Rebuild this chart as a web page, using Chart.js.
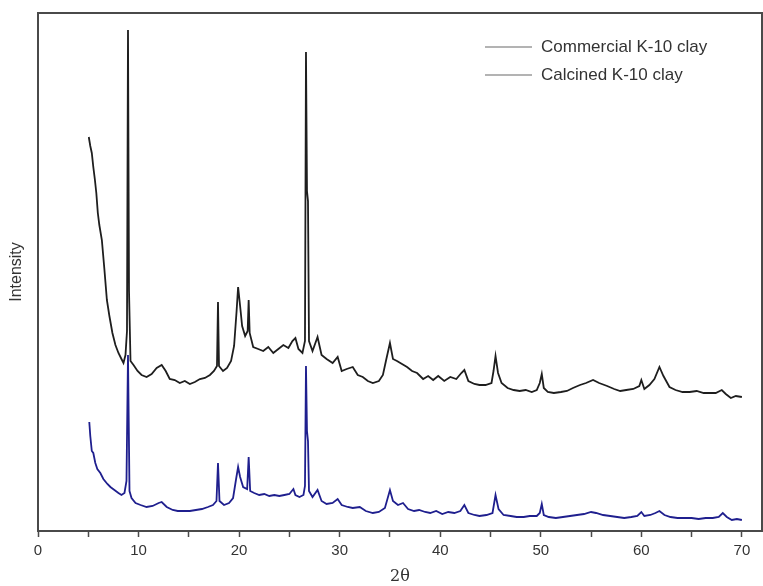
<!DOCTYPE html>
<html>
<head>
<meta charset="utf-8">
<script src="https://cdn.jsdelivr.net/npm/chart.js@4"></script>
<style>
  html, body { margin: 0; padding: 0; background: #fff; }
  #wrap { width: 763px; height: 586px; }
</style>
</head>
<body>
<div id="wrap"><canvas id="xrd"></canvas></div>
<script>
// series (2θ in degrees, intensity in arbitrary units)
const seriesNames = ["Commercial K-10 clay", "Calcined K-10 clay"];
const xTicks = [0, 10, 20, 30, 40, 50, 60, 70];
const xMinorTicks = [5, 15, 25, 35, 45, 55, 65];

const commercialX = [5.05, 5.2, 5.35, 5.5, 5.65, 5.8, 5.95, 6.1, 6.35, 6.6, 6.85, 7.1, 7.4, 7.7, 8.0, 8.3, 8.5, 8.7, 8.85, 8.95, 9.05, 9.2, 9.5, 9.9, 10.3, 10.8, 11.3, 11.8, 12.3, 12.7, 13.1, 13.6, 14.1, 14.6, 15.1, 15.6, 16.1, 16.6, 17.1, 17.5, 17.8, 17.9, 18.0, 18.4, 18.8, 19.2, 19.5, 19.75, 19.9, 20.1, 20.3, 20.6, 20.85, 20.95, 21.05, 21.4, 21.9, 22.4, 22.9, 23.4, 23.9, 24.4, 24.9, 25.3, 25.6, 25.9, 26.3, 26.55, 26.65, 26.75, 26.85, 26.95, 27.3, 27.8, 28.2, 28.7, 29.3, 29.8, 30.2, 30.7, 31.3, 31.8, 32.3, 32.8, 33.3, 33.9, 34.3, 34.6, 35.0, 35.3, 35.7, 36.2, 36.7, 37.2, 37.7, 38.3, 38.8, 39.3, 39.8, 40.4, 41.0, 41.6, 42.1, 42.4, 42.8, 43.4, 43.9, 44.5, 45.1, 45.3, 45.5, 45.75, 46.1, 46.7, 47.3, 47.9, 48.5, 49.1, 49.6, 49.9, 50.1, 50.3, 50.7, 51.3, 52.0, 52.6, 53.2, 53.9, 54.5, 55.2, 55.8, 56.6, 57.3, 57.9, 58.5, 59.2, 59.8, 60.0, 60.3, 60.8, 61.3, 61.8, 62.2, 62.8, 63.4, 64.1, 64.8, 65.5, 66.2, 66.8, 67.4, 68.0, 68.4, 68.9, 69.4, 70.0];
const commercialY = [394, 385, 378, 364, 352, 338, 318, 306, 291, 262, 231, 215, 198, 186, 178, 172, 168, 176, 200, 501, 240, 170, 166, 160, 156, 154, 157, 163, 166, 160, 152, 151, 148, 150, 147, 149, 152, 153, 156, 160, 165, 229, 165, 160, 163, 170, 185, 220, 244, 225, 205, 195, 200, 231, 198, 184, 182, 180, 184, 178, 182, 186, 183, 190, 193, 182, 178, 190, 479, 340, 330, 190, 180, 194, 176, 172, 168, 174, 160, 162, 164, 156, 154, 150, 148, 150, 156, 170, 188, 172, 170, 167, 164, 160, 158, 152, 155, 151, 155, 150, 154, 152, 158, 161, 150, 147, 146, 146, 148, 160, 175, 158, 148, 143, 141, 140, 141, 139, 141, 148, 157, 143, 139, 138, 139, 140, 143, 146, 148, 151, 148, 145, 142, 140, 141, 142, 145, 151, 142, 146, 152, 164, 155, 144, 141, 139, 139, 140, 138, 138, 138, 141, 137, 133, 135, 134];

const calcinedX = [5.1, 5.2, 5.35, 5.5, 5.7, 5.9, 6.2, 6.5, 6.9, 7.2, 7.6, 8.0, 8.3, 8.6, 8.8, 8.95, 9.1, 9.3, 9.7, 10.2, 10.8, 11.4, 12.0, 12.3, 12.8, 13.4, 13.9, 14.5, 15.1, 15.7, 16.3, 16.9, 17.4, 17.75, 17.9, 18.05, 18.5, 19.0, 19.4, 19.7, 19.9, 20.1, 20.4, 20.8, 20.95, 21.1, 21.5, 22.0, 22.5, 23.0, 23.5, 24.0, 24.5, 25.0, 25.4, 25.6, 26.0, 26.4, 26.55, 26.65, 26.75, 26.85, 26.95, 27.3, 27.8, 28.2, 28.7, 29.3, 29.8, 30.2, 30.8, 31.3, 32.0, 32.6, 33.3, 33.9, 34.5, 35.0, 35.3, 35.8, 36.3, 36.8, 37.4, 37.9, 38.5, 39.0, 39.6, 40.2, 40.8, 41.4, 42.0, 42.4, 42.8, 43.4, 43.9, 44.6, 45.2, 45.5, 45.8, 46.3, 47.0, 47.6, 48.3, 48.9, 49.6, 49.9, 50.1, 50.3, 50.8, 51.5, 52.2, 52.9, 53.6, 54.3, 55.0, 55.5, 56.2, 56.9, 57.6, 58.3, 59.0, 59.6, 60.0, 60.3, 60.9, 61.4, 61.8, 62.3, 62.9, 63.6, 64.3, 65.0, 65.7, 66.4, 67.1, 67.7, 68.1, 68.5, 69.0, 69.5, 70.0];
const calcinedY = [109, 95, 80, 78, 68, 62, 58, 52, 47, 44, 41, 38, 36, 38, 50, 176, 40, 33, 28, 26, 24, 25, 28, 29, 24, 21, 20, 20, 20, 21, 22, 24, 26, 30, 68, 30, 26, 28, 33, 52, 64, 54, 44, 42, 74, 40, 38, 36, 37, 35, 36, 35, 36, 37, 42, 36, 34, 36, 45, 165, 100, 90, 40, 34, 41, 30, 27, 28, 32, 26, 24, 23, 24, 20, 18, 19, 23, 41, 30, 26, 28, 22, 20, 21, 19, 18, 20, 17, 19, 18, 20, 26, 18, 16, 15, 16, 18, 36, 22, 16, 15, 14, 14, 15, 15, 18, 27, 16, 14, 13, 14, 15, 16, 17, 19, 18, 16, 15, 14, 13, 14, 15, 19, 15, 16, 18, 20, 16, 14, 13, 13, 13, 12, 13, 13, 14, 18, 14, 11, 12, 11];

const toPoints = (xs, ys) => xs.map((x, i) => ({ x: x, y: ys[i] }));

const fontFamily = "'Liberation Sans', Arial, sans-serif";
const axisColor = "#4a4a4a";

// frame around the plot + legend drawn inside top right
const framePlugin = {
    id: "frame",
    afterDraw(chart) {
        const { ctx, chartArea } = chart;
        ctx.save();
        ctx.strokeStyle = axisColor;
        ctx.lineWidth = 2;
        ctx.beginPath();
        ctx.moveTo(chartArea.left, chartArea.top);
        ctx.lineTo(chartArea.right, chartArea.top);
        ctx.lineTo(chartArea.right, chartArea.bottom);
        ctx.stroke();

        ctx.font = "17px " + fontFamily;
        ctx.textBaseline = "middle";
        chart.data.datasets.forEach((ds, i) => {
            const y = 47 + i * 28;
            ctx.strokeStyle = "#9a9a9a";
            ctx.lineWidth = 1.5;
            ctx.beginPath();
            ctx.moveTo(485, y);
            ctx.lineTo(532, y);
            ctx.stroke();
            ctx.fillStyle = "#333";
            ctx.fillText(ds.label, 541, y);
        });
        ctx.restore();
    }
};

new Chart(document.getElementById("xrd"), {
    type: "line",
    data: {
        datasets: [
            {
                label: seriesNames[0],
                data: toPoints(commercialX, commercialY),
                borderColor: "#1e1e1e",
                borderWidth: 1.8,
                pointRadius: 0,
                tension: 0
            },
            {
                label: seriesNames[1],
                data: toPoints(calcinedX, calcinedY),
                borderColor: "#1f1f8e",
                borderWidth: 1.8,
                pointRadius: 0,
                tension: 0
            }
        ]
    },
    options: {
        responsive: true,
        maintainAspectRatio: false,
        animation: false,
        layout: { padding: { top: 13, right: 1, left: 0, bottom: 0 } },
        plugins: {
            legend: { display: false },
            tooltip: { enabled: false }
        },
        scales: {
            x: {
                type: "linear",
                min: 0,
                max: 72,
                // major ticks every 10 with labels, minor every 5 without
                afterBuildTicks: (scale) => {
                    scale.ticks = xTicks.concat(xMinorTicks)
                        .sort((a, b) => a - b)
                        .map(v => ({ value: v }));
                },
                afterFit: (scale) => { scale.height = 55; },
                ticks: {
                    autoSkip: false,
                    maxRotation: 0,
                    padding: 5,
                    color: "#333",
                    font: { family: fontFamily, size: 15 },
                    callback: (v) => xTicks.includes(v) ? String(v) : ""
                },
                grid: {
                    drawOnChartArea: false,
                    drawTicks: true,
                    tickLength: 6,
                    tickColor: axisColor,
                    tickWidth: 1.5
                },
                border: { display: true, color: axisColor, width: 2 },
                title: {
                    display: true,
                    text: "2θ",
                    color: "#333",
                    padding: { top: 0, bottom: 0 },
                    font: { family: "'DejaVu Serif', serif", size: 16 }
                }
            },
            y: {
                min: 0,
                max: 518,
                afterFit: (scale) => { scale.width = 38; },
                ticks: { display: false },
                grid: { display: false, drawTicks: false },
                border: { display: true, color: axisColor, width: 2 },
                title: {
                    display: true,
                    text: "Intensity",
                    color: "#333",
                    padding: { top: 7, bottom: 0 },
                    font: { family: fontFamily, size: 16 }
                }
            }
        }
    },
    plugins: [framePlugin]
});
</script>
</body>
</html>
